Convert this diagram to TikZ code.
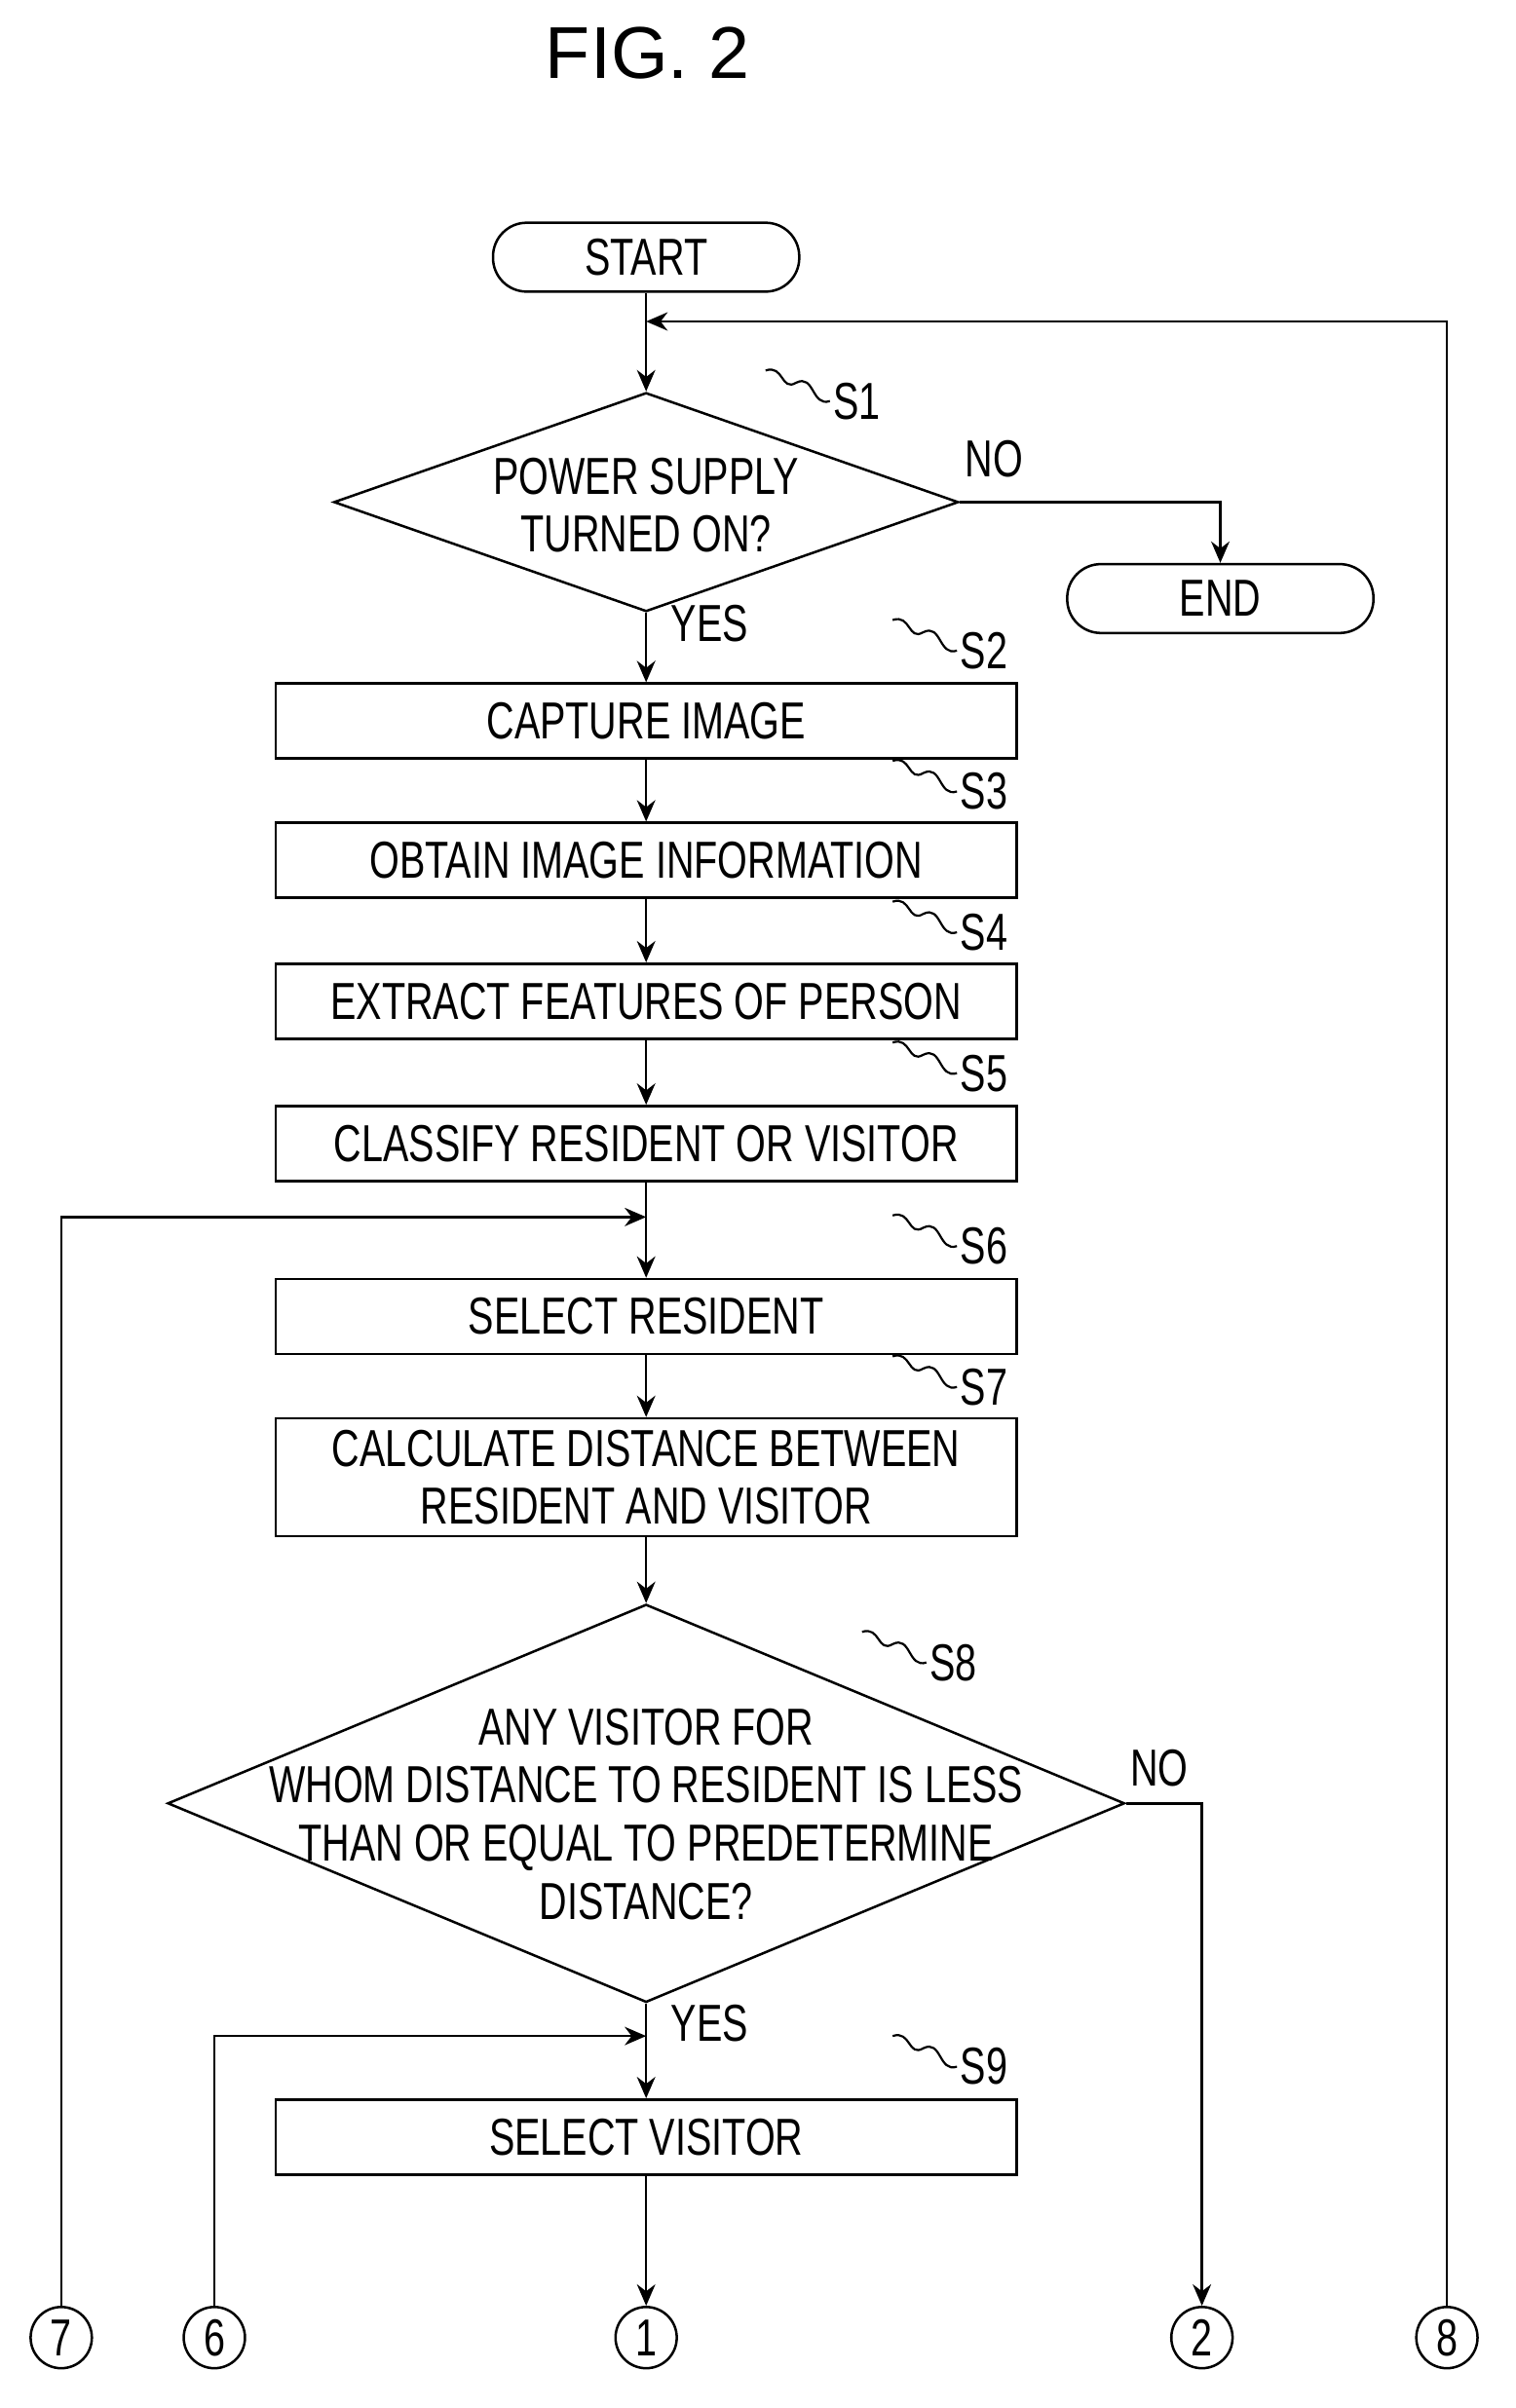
\documentclass[tikz,border=0pt]{standalone}
\usepackage{fontspec}
\setmainfont{Liberation Sans}[FakeStretch=0.74]
\newfontfamily\titlefont{Liberation Sans}
\usetikzlibrary{shapes.geometric,arrows.meta,positioning}

\tikzset{
  box/.style={draw, line width=0.8pt, minimum width=242pt, minimum height=24.5pt, inner sep=1pt, align=center},
  term/.style={draw, line width=0.8pt, rounded corners=11pt, minimum width=100pt, minimum height=22.5pt, inner sep=1pt},
  decision/.style={draw, line width=0.8pt, diamond, inner sep=0pt},
  conn/.style={draw, circle, line width=0.8pt, minimum size=20pt, inner sep=0pt},
  line/.style={line width=0.8pt},
  arr/.style={line width=0.8pt, -{Stealth[length=7pt,width=6pt]}},
  steplbl/.style={inner sep=1pt, anchor=west},
  lbl/.style={inner sep=1pt}
}
\newcommand{\squig}[1]{\draw[line width=0.7pt] (#1.west) .. controls +(-6pt,-2pt) and +(6pt,3pt) .. ++(-11pt,6pt) .. controls +(-5pt,-3pt) and +(6pt,2pt) .. ++(-10pt,4pt);}

\begin{document}
\begin{tikzpicture}[x=0.5pt,y=-0.5pt,font=\fontsize{17}{19}\selectfont]
\useasboundingbox (0,0) rectangle (990,1573);

% title
\node[font=\titlefont\fontsize{24}{26}\selectfont] (title) at (423,35) {FIG. 2};

% terminals
\node[term] (start) at (422,168) {START};
\node[term] (end) at (797,391) {END};

% decision S1
\node[decision, minimum width=204pt, minimum height=71.5pt] (s1) at (422,328) {};
\node[align=center, lbl] (s1t) at (422,330) {POWER SUPPLY\\TURNED ON?};

% process boxes
\node[box] (s2) at (422,471) {CAPTURE IMAGE};
\node[box] (s3) at (422,562) {OBTAIN IMAGE INFORMATION};
\node[box] (s4) at (422,654) {EXTRACT FEATURES OF PERSON};
\node[box] (s5) at (422,747) {CLASSIFY RESIDENT OR VISITOR};
\node[box] (s6) at (422,860) {SELECT RESIDENT};
\node[box, minimum height=38.5pt] (s7) at (422,965) {CALCULATE DISTANCE BETWEEN\\RESIDENT AND VISITOR};

% decision S8
\node[decision, minimum width=312.5pt, minimum height=130pt] (s8) at (422,1178) {};
\node[align=center, lbl] (s8t) at (422,1185) {ANY VISITOR FOR\\WHOM DISTANCE TO RESIDENT IS LESS\\THAN OR EQUAL TO PREDETERMINE\\DISTANCE?};

\node[box] (s9) at (422,1396) {SELECT VISITOR};

% connectors to other sheets
\node[conn] (c7) at (40,1527) {7};
\node[conn] (c6) at (140,1527) {6};
\node[conn] (c1) at (422,1527) {1};
\node[conn] (c2) at (785,1527) {2};
\node[conn] (c8) at (945,1527) {8};

% step labels
\node[steplbl] (l1) at (542,262) {S1};
\node[steplbl] (l2) at (625,425) {S2};
\node[steplbl] (l3) at (625,517) {S3};
\node[steplbl] (l4) at (625,609) {S4};
\node[steplbl] (l5) at (625,701) {S5};
\node[steplbl] (l6) at (625,814) {S6};
\node[steplbl] (l7) at (625,906) {S7};
\node[steplbl] (l8) at (605,1086) {S8};
\node[steplbl] (l9) at (625,1350) {S9};
\foreach \n in {l1,l2,l3,l4,l5,l6,l7,l8,l9}{\squig{\n}}

% yes / no labels
\node[lbl, anchor=west] (no1) at (628,300) {NO};
\node[lbl, anchor=west] (yes1) at (436,407) {YES};
\node[lbl, anchor=west] (no8) at (736,1155) {NO};
\node[lbl, anchor=west] (yes8) at (436,1322) {YES};

% join points
\coordinate (j1) at (422,210);
\coordinate (j6) at (422,795);
\coordinate (j9) at (422,1330);

% flow
\draw[arr] (start) -- (s1.north);
\draw[arr] (c8.north) |- (j1);
\draw[arr] (s1.east) -| (end.north);
\draw[arr] (s1.south) -- (s2.north);
\draw[arr] (s2) -- (s3);
\draw[arr] (s3) -- (s4);
\draw[arr] (s4) -- (s5);
\draw[arr] (s5) -- (s6);
\draw[arr] (c7.north) |- (j6);
\draw[arr] (s6) -- (s7);
\draw[arr] (s7) -- (s8.north);
\draw[arr] (s8.east) -| (c2.north);
\draw[arr] (s8.south) -- (s9.north);
\draw[arr] (c6.north) |- (j9);
\draw[arr] (s9) -- (c1);

\end{tikzpicture}
\end{document}
